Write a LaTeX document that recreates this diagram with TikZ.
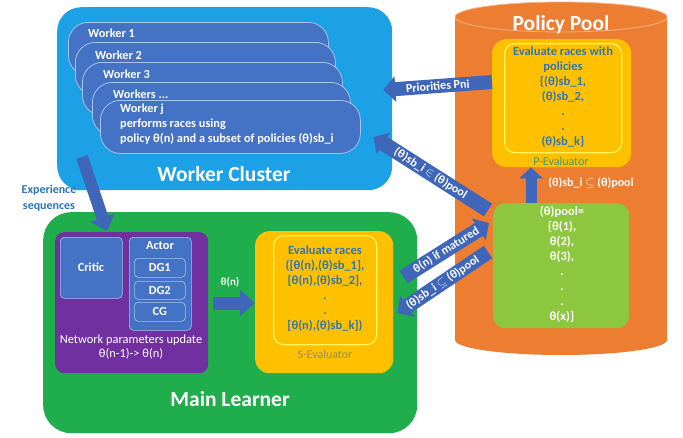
\documentclass[tikz,border=0pt]{standalone}
\usepackage{fontspec}
\setmainfont{Carlito}
\usetikzlibrary{arrows.meta,calc}

\definecolor{clusterblue}{HTML}{1DA1E6}
\definecolor{workerblue}{HTML}{4472C4}
\definecolor{workeredge}{HTML}{A9C4EB}
\definecolor{learngreen}{HTML}{1FAE4B}
\definecolor{netpurple}{HTML}{7030A0}
\definecolor{evalyellow}{HTML}{FFC000}
\definecolor{evaledge}{HTML}{FFF45C}
\definecolor{evaltext}{HTML}{2E75B6}
\definecolor{poolorange}{HTML}{ED7D31}
\definecolor{poolrim}{HTML}{F6B48A}
\definecolor{poolgreen}{HTML}{8DC63F}
\definecolor{arrowblue}{HTML}{3F66B8}
\definecolor{slabel}{HTML}{9C8C5A}
\definecolor{plabel}{HTML}{3E9C7A}

\tikzset{
  box/.style={anchor=north west, inner sep=0pt, draw=none},
  pill/.style={box, draw=workeredge, line width=0.8pt, fill=workerblue,
    rounded corners=20pt, minimum width=260pt, minimum height=53pt},
  wtext/.style={text=white, font=\bfseries\fontsize{12.3}{15}\selectfont,
    anchor=west, inner sep=0pt},
  title/.style={text=white, font=\bfseries\fontsize{21.5}{24}\selectfont, inner sep=0pt},
  part/.style={box, fill=workerblue, draw=workeredge, line width=0.6pt, rounded corners=4pt},
  ptext/.style={text=white, font=\bfseries\fontsize{12.3}{14}\selectfont, inner sep=0pt},
  evtext/.style={text=evaltext, font=\bfseries\fontsize{12.5}{15}\selectfont,
    align=center, anchor=north, inner sep=0pt},
  bigarrow/.style={draw=arrowblue, line width=13pt,
    -{Triangle[width=25pt,length=12pt]}},
  alabel/.style={text=white, font=\bfseries\fontsize{12}{13}\selectfont,
    sloped, inner sep=0pt}
}

\begin{document}
\begin{tikzpicture}[x=1pt,y=-1pt]
\useasboundingbox (0,0) rectangle (683,437);

% ---------------- Worker cluster ----------------
\node[box, fill=clusterblue, rounded corners=24pt,
  minimum width=335pt, minimum height=183pt] (wc) at (57,7) {};
\node[pill] (w1) at (68,22) {};
\node[pill] (w2) at (75,42) {};
\node[pill] (w3) at (82,62) {};
\node[pill, minimum width=258pt] (w4) at (92,82) {};
\node[pill] (wj) at (100,100) {};
\node[wtext] (w1t) at (88,33) {Worker 1};
\node[wtext] (w2t) at (95,55) {Worker 2};
\node[wtext] (w3t) at (103,74) {Worker 3};
\node[wtext] (w4t) at (113,94) {Workers ...};
\node[wtext, anchor=north west, align=left] (wjt) at (120,104)
  {Worker j\\performs races using\\policy θ(n) and a subset of policies (θ)sb\_i};
\node[title] (wctitle) at (224,174) {Worker Cluster};

% ---------------- Main learner ----------------
\node[box, fill=learngreen, rounded corners=28pt,
  minimum width=374pt, minimum height=221pt] (ml) at (43,212) {};
\node[title] (mltitle) at (230,399) {Main Learner};

% network parameters block
\node[box, fill=netpurple, rounded corners=9pt,
  minimum width=153pt, minimum height=141pt] (net) at (55,232) {};
\node[part, minimum width=62pt, minimum height=61pt] (critic) at (60,237) {};
\node[part, minimum width=62pt, minimum height=93pt] (actor) at (129,237) {};
\node[part, minimum width=51pt, minimum height=19pt] (dg1) at (134,258) {};
\node[part, minimum width=51pt, minimum height=18pt] (dg2) at (134,281) {};
\node[part, minimum width=51pt, minimum height=19pt] (cg) at (134,302) {};
\node[ptext] (critict) at (91,267) {Critic};
\node[ptext] (actort) at (160,246) {Actor};
\node[ptext] at (dg1.center) (dg1t) {DG1};
\node[ptext] at (dg2.center) (dg2t) {DG2};
\node[ptext] at (cg.center) (cgt) {CG};
\node[text=white, font=\fontsize{12.4}{14}\selectfont, align=center, inner sep=0pt]
  (nett) at (131,347) {Network parameters update\\θ(n-1)-> θ(n)};

% S-Evaluator
\node[box, fill=evalyellow, rounded corners=14pt,
  minimum width=138pt, minimum height=142pt] (seval) at (255,231) {};
\node[box, draw=evaledge, line width=1.3pt, rounded corners=10pt,
  minimum width=103pt, minimum height=109pt] (sinner) at (273,235) {};
\node[evtext] (sevt) at (325,246)
  {Evaluate races\\{}([θ(n),(θ)sb\_1],\\{}[θ(n),(θ)sb\_2],\\.\\.\\{}[θ(n),(θ)sb\_k])};
\node[text=slabel, font=\fontsize{12}{13}\selectfont, inner sep=0pt]
  (sevl) at (325,354) {S-Evaluator};

% ---------------- Policy pool (cylinder) ----------------
\fill[poolorange] (455,17) rectangle (667,340);
\fill[poolorange] (561,340) ellipse (106 and 15);
\fill[poolorange] (561,17) ellipse (106 and 15);
\draw[poolrim, line width=0.8pt] (561,17) ellipse (106 and 15);
\node[title] (pptitle) at (561,25) {Policy Pool};

% P-Evaluator
\node[box, fill=evalyellow, rounded corners=14pt,
  minimum width=139pt, minimum height=128pt] (peval) at (492,39) {};
\node[box, draw=evaledge, line width=1.3pt, rounded corners=10pt,
  minimum width=117pt, minimum height=109pt] (pinner) at (504,43) {};
\node[evtext] (pevt) at (563,47)
  {Evaluate races with\\policies\\\{(θ)sb\_1,\\(θ)sb\_2,\\.\\.\\(θ)sb\_k\}};
\node[text=plabel, font=\fontsize{12}{13}\selectfont, inner sep=0pt]
  (pevl) at (561,161) {P-Evaluator};

% pool contents
\node[box, fill=poolgreen, rounded corners=12pt,
  minimum width=136pt, minimum height=125pt] (pool) at (493,203) {};
\node[text=white, font=\bfseries\fontsize{12.5}{15}\selectfont, align=center,
  anchor=north, inner sep=0pt] (poolt) at (562,206)
  {(θ)pool=\\\{θ(1),\\θ(2),\\θ(3),\\.\\.\\.\\θ(x)\}};

% ---------------- Connectors ----------------
% pool -> P-Evaluator
\coordinate (upx) at (531,0);
\draw[bigarrow, line width=11pt, -{Triangle[width=23pt,length=11pt]}]
  (pool.north -| upx) -- (peval.south -| upx);
\node[text=white, font=\bfseries\fontsize{12}{13}\selectfont, inner sep=0pt]
  (subl) at (591,183) {(θ)sb\_i $\subseteq$ (θ)pool};

% priorities back to the workers
\coordinate (prioTail) at ($(peval.north west)+(0,43)$);
\coordinate (prioTip) at ($(wc.north east)+(-9,83)$);
\draw[bigarrow, line width=14pt] (prioTail) -- node[alabel] (priol) {Priorities Pni} (prioTip);

% policy subsets to the workers
\coordinate (subTail) at ($(pool.north west)+(-5,7)$);
\coordinate (subTip) at ($(wc.north east)+(-19,130)$);
\draw[bigarrow, line width=15pt] (subTail) -- node[alabel] (subwl)
  {(θ)sb\_i $\in$ (θ)pool} (subTip);

% matured policy into the pool
\coordinate (matTail) at ($(seval.north east)+(10,46)$);
\coordinate (matTip) at ($(pool.north west)+(-4,20)$);
\draw[bigarrow, line width=15pt] (matTail) -- node[alabel] (matl)
  {θ(n) if matured} (matTip);

% policy subsets back to the S-Evaluator
\coordinate (ssTail) at ($(pool.north west)+(-5,49)$);
\coordinate (ssTip) at ($(seval.north east)+(4,82)$);
\draw[bigarrow, line width=15pt] (ssTail) -- node[alabel] (ssl)
  {(θ)sb\_i $\subseteq$ (θ)pool} (ssTip);

% learner output to the S-Evaluator
\coordinate (thStart) at (213,303);
\draw[bigarrow, -{Triangle[width=25pt,length=15pt]}]
  (thStart) -- (seval.west |- thStart);
\node[text=white, font=\bfseries\fontsize{11}{12}\selectfont, inner sep=0pt]
  (thl) at (230,282) {θ(n)};

% experience from the workers to the learner
\coordinate (expTail) at ($(wc.north west)+(25,150)$);
\coordinate (expTip) at ($(net.north west)+(52,-1)$);
\draw[bigarrow, line width=12pt, -{Triangle[width=25pt,length=14pt]}] (expTail) -- (expTip);
\node[text=evaltext, font=\bfseries\fontsize{12}{16}\selectfont, align=center,
  inner sep=0pt] (expl) at (49,198) {Experience\\sequences};

\end{tikzpicture}
\end{document}
